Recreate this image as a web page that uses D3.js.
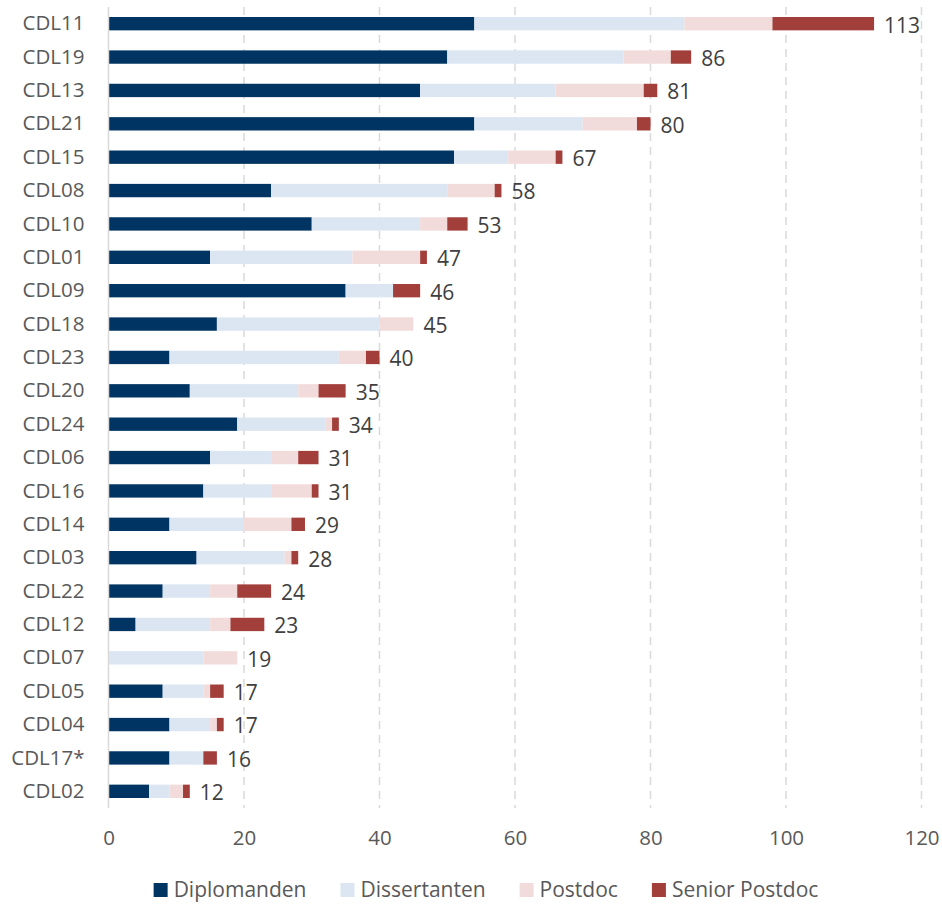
<!DOCTYPE html>
<html>
<head>
<meta charset="utf-8">
<script src="https://cdn.jsdelivr.net/npm/d3@7"></script>
<style>
  html, body { margin: 0; padding: 0; background: #ffffff; }
  svg { display: block; font-family: "Open Sans", "Noto Sans", sans-serif; }
</style>
</head>
<body>
<svg id="chart" width="942" height="906"></svg>
<script>
// Christian Doppler labs, staff by position (sorted by total)
const labs = ["CDL11","CDL19","CDL13","CDL21","CDL15","CDL08","CDL10","CDL01","CDL09","CDL18","CDL23","CDL20",
              "CDL24","CDL06","CDL16","CDL14","CDL03","CDL22","CDL12","CDL07","CDL05","CDL04","CDL17*","CDL02"];
const diplomanden    = [54,50,46,54,51,24,30,15,35,16, 9,12,19,15,14, 9,13, 8, 4, 0, 8, 9, 9, 6];
const dissertanten   = [31,26,20,16, 8,26,16,21, 7,24,25,16,13, 9,10,11,13, 7,11,14, 6, 6, 5, 3];
const postdoc        = [13, 7,13, 8, 7, 7, 4,10, 0, 5, 4, 3, 1, 4, 6, 7, 1, 4, 3, 5, 1, 1, 0, 2];
const seniorPostdoc  = [15, 3, 2, 2, 1, 1, 3, 1, 4, 0, 2, 4, 1, 3, 1, 2, 1, 5, 5, 0, 2, 1, 2, 1];
const seriesNames    = ["Diplomanden","Dissertanten","Postdoc","Senior Postdoc"];
const seriesColors   = ["#003462","#dce6f2","#f2dcdb","#a33f3b"];
const xTicks         = [0,20,40,60,80,100,120];

const rows = labs.map((lab, i) => ({
  lab,
  "Diplomanden": diplomanden[i],
  "Dissertanten": dissertanten[i],
  "Postdoc": postdoc[i],
  "Senior Postdoc": seniorPostdoc[i]
}));
rows.forEach(r => r.total = seriesNames.reduce((s, k) => s + r[k], 0));

const svg = d3.select("#chart");
const plot = { left: 108.5, right: 921.5, top: 7, bottom: 808 };

const x = d3.scaleLinear().domain([0, 120]).range([plot.left, plot.right]);
const y = d3.scaleBand().domain(labs).range([plot.top, plot.bottom]).paddingInner(0.6).paddingOuter(0.3);
const color = d3.scaleOrdinal().domain(seriesNames).range(seriesColors);

// dashed vertical gridlines
svg.append("g")
  .selectAll("line")
  .data(xTicks.filter(t => t > 0))
  .join("line")
  .attr("x1", d => x(d)).attr("x2", d => x(d))
  .attr("y1", plot.top).attr("y2", plot.bottom)
  .attr("stroke", "#d9d9d9")
  .attr("stroke-width", 1.5)
  .attr("stroke-dasharray", "8,6");

// stacked bars
const stack = d3.stack().keys(seriesNames)(rows);
svg.append("g")
  .selectAll("g")
  .data(stack)
  .join("g")
  .attr("fill", d => color(d.key))
  .selectAll("rect")
  .data(d => d)
  .join("rect")
  .attr("x", d => x(d[0]))
  .attr("y", d => y(d.data.lab))
  .attr("width", d => x(d[1]) - x(d[0]))
  .attr("height", y.bandwidth());

// category axis line
svg.append("line")
  .attr("x1", x(0)).attr("x2", x(0))
  .attr("y1", plot.top).attr("y2", plot.bottom)
  .attr("stroke", "#d9d9d9").attr("stroke-width", 1.5);

// category labels
const yAxis = d3.axisLeft(y).tickSize(0).tickPadding(24);
const yg = svg.append("g").attr("transform", `translate(${x(0)},0)`).call(yAxis);
yg.select(".domain").remove();
yg.selectAll("text")
  .attr("font-family", "Open Sans")
  .attr("font-size", 20.5)
  .attr("fill", "#595959");

// value axis labels
const xAxis = d3.axisBottom(x).tickValues(xTicks).tickSize(0).tickPadding(22);
const xg = svg.append("g").attr("transform", `translate(0,${plot.bottom})`).call(xAxis);
xg.select(".domain").remove();
xg.selectAll("text")
  .attr("font-family", "Open Sans")
  .attr("font-size", 20.5)
  .attr("fill", "#595959");

// totals
svg.append("g")
  .selectAll("text")
  .data(rows)
  .join("text")
  .attr("x", d => x(d.total) + 10)
  .attr("y", d => y(d.lab) + y.bandwidth() / 2 + 1.5)
  .attr("dy", "0.35em")
  .attr("font-size", 21)
  .attr("fill", "#404040")
  .text(d => d.total);

// legend
const legend = svg.append("g");
const items = legend.selectAll("g")
  .data(seriesNames)
  .join("g");
items.append("rect")
  .attr("width", 14).attr("height", 14)
  .attr("y", -7)
  .attr("fill", d => color(d));
items.append("text")
  .attr("x", 20)
  .attr("dy", "0.35em")
  .attr("font-size", 21)
  .attr("fill", "#595959")
  .text(d => d);

let cursor = 0;
const gap = 34;
const widths = [];
items.each(function() {
  const w = 20 + d3.select(this).select("text").node().getComputedTextLength();
  widths.push(w);
});
const totalW = d3.sum(widths) + gap * (widths.length - 1);
const startX = 486 - totalW / 2;
items.attr("transform", (d, i) => {
  const tx = startX + cursor;
  cursor += widths[i] + gap;
  return `translate(${tx},890)`;
});
</script>
</body>
</html>
